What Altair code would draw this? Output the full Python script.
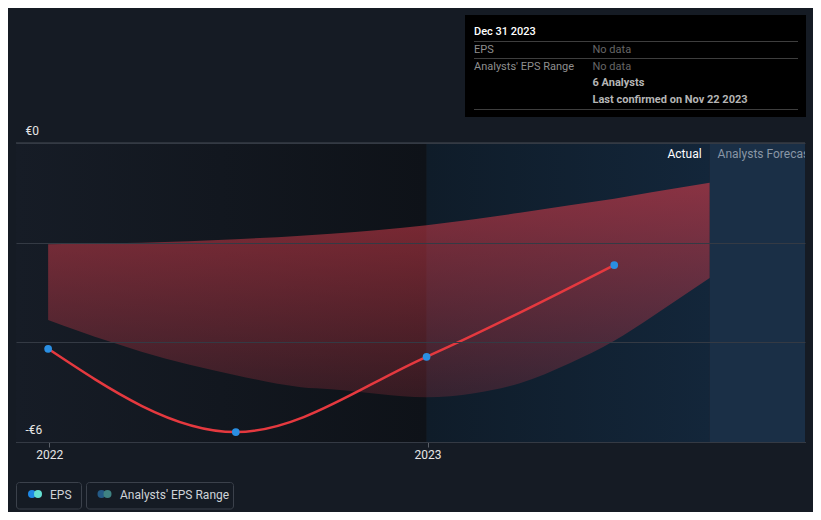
import altair as alt
import pandas as pd

BG = "#151b24"
FONT = "Roboto"

# ---- data ----
eps_dates = ["2021-12-31", "2022-06-30", "2022-12-31", "2023-06-30"]
eps_values = [-4.13, -5.80, -4.29, -2.45]

range_dates = ["2021-12-31", "2022-03-01", "2022-03-31", "2022-06-30", "2022-09-01",
               "2022-09-30", "2022-12-31", "2023-02-15", "2023-03-31", "2023-05-18",
               "2023-06-30", "2023-08-05", "2023-09-30"]
range_high = [-2.03, -2.01, -2.00, -1.93, -1.86, -1.82, -1.65, -1.53, -1.40, -1.25,
              -1.12, -0.99, -0.80]
range_low = [-3.55, -3.99, -4.19, -4.66, -4.90, -4.94, -5.10, -5.02, -4.82, -4.42,
             -3.97, -3.49, -2.71]

region_names = ["past", "actual", "forecast"]
region_start = ["2021-11-30", "2022-12-31", "2023-09-30"]
region_end = ["2022-12-31", "2023-09-30", "2023-12-31"]
region_labels = ["Actual", "Analysts Forecast"]
region_label_date = ["2023-09-30"]

y_domain = [-6, 0]
y_ticks = [0, -2, -4, -6]
x_domain = ["2021-11-30", "2023-12-31"]
x_ticks = ["2022-01-01", "2023-01-01"]

tooltip_title = "Dec 31 2023"
tooltip_rows = ["EPS", "Analysts' EPS Range"]
tooltip_values = ["No data", "No data"]
tooltip_notes = ["6 Analysts", "Last confirmed on Nov 22 2023"]
legend_items = ["EPS", "Analysts' EPS Range"]


def ms(s):
    return int(pd.Timestamp(s, tz="UTC").value // 10**6)


eps_df = pd.DataFrame({"date": eps_dates, "eps": eps_values})
range_df = pd.DataFrame({"date": range_dates, "high": range_high, "low": range_low})
region_df = pd.DataFrame({"name": region_names, "start": region_start, "end": region_end,
                          "top": [y_domain[1]] * 3, "bottom": [y_domain[0]] * 3})
label_df = pd.DataFrame({"date": region_label_date, "v": [y_domain[1]]})
zero_df = pd.DataFrame({"v": [y_domain[1]]})
one = pd.DataFrame({"k": [0]})

xscale = alt.Scale(type="utc", domain=[ms(d) for d in x_domain])
yscale = alt.Scale(domain=y_domain, nice=False, zero=False)

x_axis = alt.Axis(values=[ms(d) for d in x_ticks],
                  labelExpr="utcFormat(datum.value, '%Y')", title=None, grid=False,
                  domainColor="#5b6068", tickColor="#5b6068", tickSize=5,
                  labelColor="#e6e6e6", labelFontSize=12, labelPadding=2, labelFont=FONT)
y_axis = alt.Axis(values=y_ticks, title=None, grid=True, gridColor="#343a44", domain=False,
                  ticks=False, tickSize=0, labelAlign="left", labelPadding=-9,
                  labelBaseline="alphabetic", labelOffset=-8.5, labelFlush=False,
                  labelOverlap=False, labelColor="#e6e6e6", labelFontSize=12, labelFont=FONT,
                  labelExpr="datum.value == 0 ? '€0' : (datum.value == -6 ? '-€6' : '')",
                  zindex=1)


def X(f):
    return alt.X(f, scale=xscale, axis=x_axis)


def Y(f):
    return alt.Y(f, scale=yscale, axis=y_axis)


def region(name, fill):
    return alt.Chart(region_df).transform_filter(alt.datum.name == name).mark_rect(
        color=fill).encode(x=X("start:T"), x2="end:T", y=Y("top:Q"), y2="bottom:Q")


past = region("past", alt.Gradient(gradient="linear",
                                   stops=[alt.GradientStop(color="#161c26", offset=0),
                                          alt.GradientStop(color="#0e1218", offset=1)],
                                   x1=0, x2=1, y1=0, y2=0))
actual = region("actual", alt.Gradient(gradient="linear",
                                       stops=[alt.GradientStop(color="#0f1c29", offset=0),
                                              alt.GradientStop(color="#13263a", offset=1)],
                                       x1=0, x2=1, y1=0, y2=0))
forecast = region("forecast", "#1a2f46")

area = alt.Chart(range_df).mark_area(
    interpolate="monotone",
    color=alt.Gradient(gradient="linear",
                       stops=[alt.GradientStop(color="rgba(205,58,72,0.64)", offset=0),
                              alt.GradientStop(color="rgba(205,58,72,0.20)", offset=1)],
                       x1=0, x2=0, y1=0, y2=1)).encode(
    x=X("date:T"), y=Y("high:Q"), y2="low:Q")

top_rule = alt.Chart(zero_df).mark_rule(color="#474c55", strokeWidth=1).encode(y=Y("v:Q"))

line = alt.Chart(eps_df).mark_line(color="#e5393f", strokeWidth=2.5,
                                   interpolate="monotone").encode(x=X("date:T"), y=Y("eps:Q"))

points = alt.Chart(eps_df).mark_circle(color="#2a8fe3", size=60, opacity=1).encode(
    x=X("date:T"), y=Y("eps:Q"))

lbl_actual = alt.Chart(label_df).mark_text(
    text=region_labels[0], align="right", baseline="alphabetic", dx=-8, dy=15,
    color="#ffffff", fontSize=12, font=FONT).encode(x=X("date:T"), y=Y("v:Q"))
lbl_fc = alt.Chart(label_df).mark_text(
    text=region_labels[1], align="left", baseline="alphabetic", dx=8, dy=15,
    color="#8996a5", fontSize=12, font=FONT, clip=True).encode(x=X("date:T"), y=Y("v:Q"))


def txt(s, x, y, color, weight="normal", size=11):
    return alt.Chart(one).mark_text(text=s, align="left", baseline="alphabetic", color=color,
                                    fontSize=size, font=FONT, fontWeight=weight).encode(
        x=alt.value(x), y=alt.value(y))


def hrule(x1, x2, y, color):
    return alt.Chart(one).mark_rule(color=color, strokeWidth=1).encode(
        x=alt.value(x1), x2=alt.value(x2), y=alt.value(y))


# tooltip panel (top right)
tip_box = alt.Chart(one).mark_rect(color="#000000").encode(
    x=alt.value(449), x2=alt.value(790), y=alt.value(-128), y2=alt.value(-26))
tip = [tip_box,
       txt(tooltip_title, 458, -108, "#ffffff", 500),
       hrule(458, 782, -101.5, "#3e3e3e"),
       txt(tooltip_rows[0], 458, -90.5, "#8f8f8f"),
       txt(tooltip_values[0], 576.5, -90.5, "#666666"),
       hrule(458, 782, -84.5, "#3e3e3e"),
       txt(tooltip_rows[1], 458, -73.5, "#8f8f8f"),
       txt(tooltip_values[1], 576.5, -73.5, "#666666"),
       txt(tooltip_notes[0], 576.5, -57, "#b5b5b5", "bold"),
       txt(tooltip_notes[1], 576.5, -40.5, "#b5b5b5", "bold"),
       hrule(458, 782, -33.5, "#3e3e3e")]


def box(x1, x2):
    return alt.Chart(one).mark_rect(fillOpacity=0, stroke="#3b414b", strokeWidth=1,
                                    cornerRadius=3).encode(
        x=alt.value(x1), x2=alt.value(x2), y=alt.value(339.5), y2=alt.value(366))


def dot(x, color):
    return alt.Chart(one).mark_circle(color=color, size=64, opacity=1).encode(
        x=alt.value(x), y=alt.value(351))


legend = [box(0.5, 65.5), dot(16, "#1e88e5"), dot(22, "#64e0d2"),
          txt(legend_items[0], 34, 355.5, "#cfd3d8", size=12),
          box(70.5, 217.5), dot(85.5, "#245a86"), dot(91.5, "#3f8282"),
          txt(legend_items[1], 104, 355.5, "#cfd3d8", size=12)]

chart = alt.layer(past, actual, forecast, area, top_rule, line, points, lbl_actual, lbl_fc,
                  *tip, *legend).properties(
    width=789, height=299, background=BG, autosize="none",
    padding={"left": 8, "top": 135, "right": 8, "bottom": 70}
).configure_view(stroke=None)

chart.save("out.html", embed_options={"renderer": "svg", "actions": False})
